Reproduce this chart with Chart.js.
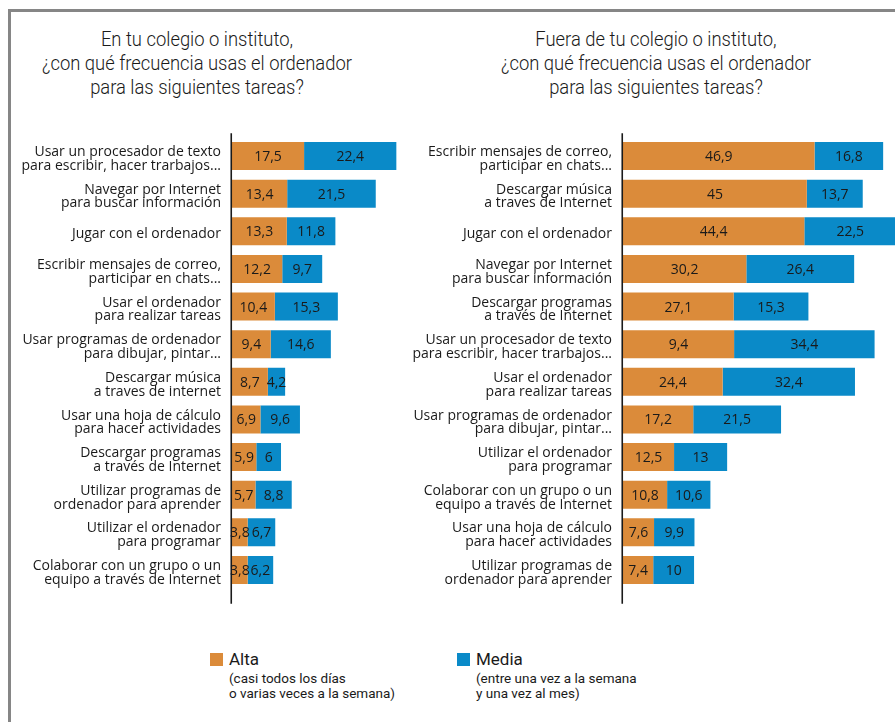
<!DOCTYPE html>
<html>
<head>
<meta charset="utf-8">
<script src="https://cdn.jsdelivr.net/npm/chart.js@4/dist/chart.umd.min.js"></script>
<style>
  html, body { margin:0; padding:0; background:#fff; width:895px; height:722px; overflow:hidden; }
  .frame-top { position:absolute; left:8px; top:9px; width:887px; height:3px; background:#868686; }
  .frame-left { position:absolute; left:8px; top:9px; width:3px; height:713px; background:#868686; }
  .title { position:absolute; top:27px; width:440px; text-align:center; }
  .title span { display:inline-block; font-family:Roboto,"Open Sans",sans-serif; font-weight:300; font-size:21px; line-height:24px; color:#1a1a1a; white-space:nowrap; transform-origin:50% 50%; }
  canvas { position:absolute; }
  .leg { position:absolute; font-family:Roboto,"Open Sans",sans-serif; color:#1a1a1a; }
  .leg .box { position:absolute; left:0; top:2px; width:13px; height:13px; }
  .leg .main { position:absolute; left:19px; top:-2px; font-size:17px; line-height:20px; white-space:nowrap; }
  .leg .sub { position:absolute; left:19px; top:20px; font-size:13.5px; line-height:15px; white-space:nowrap; }
</style>
</head>
<body>
<div class="frame-top"></div>
<div class="frame-left"></div>
<div class="title" style="left:-23px;"><span>En tu colegio o instituto,<br>¿con qué frecuencia usas el ordenador<br>para las siguientes tareas?</span></div>
<div class="title" style="left:436px;"><span>Fuera de tu colegio o instituto,<br>¿con qué frecuencia usas el ordenador<br>para las siguientes tareas?</span></div>
<canvas id="left" width="440" height="500" style="left:0px; top:120px;"></canvas>
<canvas id="right" width="495" height="500" style="left:400px; top:120px;"></canvas>
<div class="leg" style="left:210px; top:651px;">
  <div class="box" style="background:#DB8B3A"></div>
  <div class="main">Alta</div>
  <div class="sub">(casi todos los días<br>o varias veces a la semana)</div>
</div>
<div class="leg" style="left:457px; top:651px;">
  <div class="box" style="background:#0A8AC8"></div>
  <div class="main">Media</div>
  <div class="sub">(entre una vez a la semana<br>y una vez al mes)</div>
</div>
<script>
// ---- Data ----
const seriesNames = ['Alta', 'Media'];

const leftCategories = [
  ['Usar un procesador de texto', 'para escribir, hacer trarbajos...'],
  ['Navegar por Internet', 'para buscar información'],
  'Jugar con el ordenador',
  ['Escribir mensajes de correo,', 'participar en chats...'],
  ['Usar el ordenador', 'para realizar tareas'],
  ['Usar programas de ordenador', 'para dibujar, pintar...'],
  ['Descargar música', 'a traves de internet'],
  ['Usar una hoja de cálculo', 'para hacer actividades'],
  ['Descargar programas', 'a través de Internet'],
  ['Utilizar programas de', 'ordenador para aprender'],
  ['Utilizar el ordenador', 'para programar'],
  ['Colaborar con un grupo o un', 'equipo a través de Internet']
];
const leftAlta  = [17.5, 13.4, 13.3, 12.2, 10.4, 9.4, 8.7, 6.9, 5.9, 5.7, 3.8, 3.8];
const leftMedia = [22.4, 21.5, 11.8, 9.7, 15.3, 14.6, 4.2, 9.6, 6, 8.8, 6.7, 6.2];

const rightCategories = [
  ['Escribir mensajes de correo,', 'participar en chats...'],
  ['Descargar música', 'a traves de Internet'],
  'Jugar con el ordenador',
  ['Navegar por Internet', 'para buscar información'],
  ['Descargar programas', 'a través de Internet'],
  ['Usar un procesador de texto', 'para escribir, hacer trarbajos...'],
  ['Usar el ordenador', 'para realizar tareas'],
  ['Usar programas de ordenador', 'para dibujar, pintar...'],
  ['Utilizar el ordenador', 'para programar'],
  ['Colaborar con un grupo o un', 'equipo a través de Internet'],
  ['Usar una hoja de cálculo', 'para hacer actividades'],
  ['Utilizar programas de', 'ordenador para aprender']
];
// bar lengths as drawn in the picture
const rightAlta  = [46.9, 45, 44.4, 30.2, 27.1, 27.2, 24.4, 17.2, 12.5, 10.8, 7.6, 7.4];
const rightMedia = [16.8, 13.7, 22.5, 26.4, 18.3, 34.4, 32.4, 21.5, 13, 10.6, 9.9, 10];
// value labels as printed in the picture
const rightAltaText  = ['46,9', '45', '44,4', '30,2', '27,1', '9,4', '24,4', '17,2', '12,5', '10,8', '7,6', '7,4'];
const rightMediaText = ['16,8', '13,7', '22,5', '26,4', '15,3', '34,4', '32,4', '21,5', '13', '10,6', '9,9', '10'];

const colorAlta = '#DB8B3A';
const colorMedia = '#0A8AC8';

function fmt(v) { return String(v).replace('.', ','); }

// squeeze the titles horizontally to the condensed width of the reference
document.querySelectorAll('.title span').forEach(s => {
  const w = s.getBoundingClientRect().width;
  s.style.transform = 'scaleX(' + (310 / w) + ')';
});

const valueLabels = {
  id: 'valueLabels',
  afterDatasetsDraw(chart) {
    const ctx = chart.ctx;
    ctx.save();
    ctx.font = '14px "Open Sans"';
    ctx.fillStyle = '#1a1a1a';
    ctx.textAlign = 'center';
    ctx.textBaseline = 'middle';
    chart.data.datasets.forEach((ds, i) => {
      const meta = chart.getDatasetMeta(i);
      meta.data.forEach((el, j) => {
        const t = ds.texts ? ds.texts[j] : fmt(ds.data[j]);
        ctx.fillText(t, (el.x + el.base) / 2, el.y + 1);
      });
    });
    // vertical axis line
    const a = chart.chartArea;
    const x0 = chart.scales.x.getPixelForValue(0) - 0.75;
    ctx.strokeStyle = '#1a1a1a';
    ctx.lineWidth = 1.6;
    ctx.beginPath();
    ctx.moveTo(x0, a.top - 4);
    ctx.lineTo(x0, a.bottom + 15);
    ctx.stroke();
    ctx.restore();
  }
};

function makeChart(id, cats, alta, media, altaText, mediaText, axisWidth, xMax) {
  return new Chart(document.getElementById(id), {
    type: 'bar',
    data: {
      labels: cats,
      datasets: [
        { label: seriesNames[0], data: alta, texts: altaText, backgroundColor: colorAlta, borderWidth: 0,
          categoryPercentage: 1, barPercentage: 0.745 },
        { label: seriesNames[1], data: media, texts: mediaText, backgroundColor: colorMedia, borderWidth: 0,
          categoryPercentage: 1, barPercentage: 0.745 }
      ]
    },
    options: {
      indexAxis: 'y',
      responsive: false,
      animation: false,
      devicePixelRatio: 1,
      layout: { padding: { top: 17.2, bottom: 31.2, left: 0, right: 0 } },
      plugins: { legend: { display: false }, tooltip: { enabled: false }, title: { display: false } },
      scales: {
        x: { stacked: true, display: false, min: 0, max: xMax },
        y: {
          stacked: true,
          grid: { display: false, drawTicks: false },
          border: { display: false },
          ticks: { autoSkip: false, padding: 11, labelOffset: 3, color: '#1a1a1a',
                   font: { family: '"Open Sans"', size: 14, lineHeight: 0.98 } },
          afterFit(scale) { scale.width = axisWidth; scale.paddingTop = 0; scale.paddingBottom = 0; }
        }
      }
    },
    plugins: [valueLabels]
  });
}

makeChart('left', leftCategories, leftAlta, leftMedia, null, null, 232, 50.5);
makeChart('right', rightCategories, rightAlta, rightMedia, rightAltaText, rightMediaText, 223, 66.6);
</script>
</body>
</html>
